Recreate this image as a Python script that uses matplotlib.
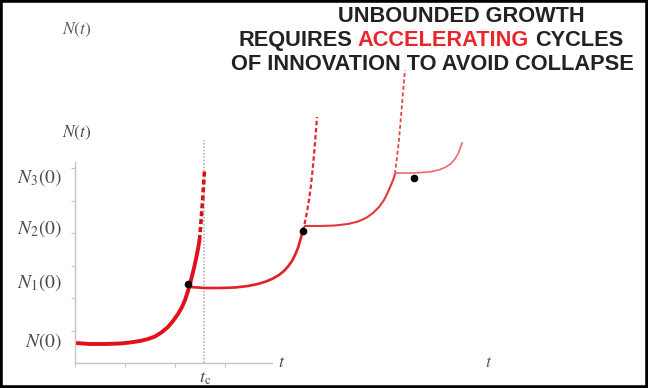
import matplotlib
matplotlib.use("Agg")
import matplotlib.pyplot as plt
from matplotlib.patches import Rectangle

plt.rcParams['mathtext.fontset'] = 'stix'

# ---------------- data (t in tick units, N in tick units) ----------------
# first cycle: N(0) -> finite-time singularity at t_c
c1_t = [0.02, 0.30, 0.60, 0.90, 1.10, 1.30, 1.46, 1.60, 1.74, 1.86, 1.96, 2.06,
        2.14, 2.20, 2.26, 2.30, 2.34, 2.38, 2.42, 2.46, 2.49]
c1_n = [0.615, 0.585, 0.585, 0.600, 0.631, 0.677, 0.738, 0.815, 0.954, 1.108, 1.292,
        1.508, 1.723, 1.938, 2.215, 2.431, 2.677, 2.923, 3.200, 3.508, 3.785]
c1d_t = [2.49, 2.51, 2.53, 2.55, 2.566, 2.58, 2.59]
c1d_n = [3.785, 4.154, 4.554, 4.954, 5.354, 5.692, 5.908]

# second cycle
c2_t = [2.30, 2.60, 2.90, 3.20, 3.46, 3.66, 3.82, 3.96, 4.08, 4.18, 4.26, 4.34,
        4.40, 4.46, 4.50, 4.54, 4.56]
c2_n = [2.338, 2.308, 2.308, 2.323, 2.369, 2.431, 2.508, 2.600, 2.708, 2.831, 2.969,
        3.138, 3.323, 3.538, 3.754, 3.969, 4.062]
c2d_t = [4.56, 4.60, 4.64, 4.68, 4.72, 4.76, 4.80, 4.84]
c2d_n = [4.062, 4.338, 4.646, 5.015, 5.477, 6.062, 6.769, 7.569]

# third cycle
c3_t = [4.60, 4.90, 5.20, 5.46, 5.66, 5.82, 5.96, 6.08, 6.18, 6.26, 6.32, 6.37, 6.40]
c3_n = [4.215, 4.215, 4.231, 4.277, 4.354, 4.462, 4.615, 4.800, 5.015, 5.262, 5.477,
        5.662, 5.815]
c3d_t = [6.40, 6.44, 6.48, 6.51, 6.54, 6.57, 6.60]
c3d_n = [5.815, 6.338, 6.862, 7.415, 7.969, 8.492, 9.015]

# fourth cycle
c4_t = [6.40, 6.70, 6.96, 7.14, 7.30, 7.42, 7.52, 7.60, 7.67, 7.74]
c4_n = [5.846, 5.846, 5.862, 5.892, 5.954, 6.031, 6.138, 6.277, 6.462, 6.769]

# innovation points
dot_t = [2.26, 4.56, 6.78]
dot_n = [2.43, 4.06, 5.69]

# critical time
t_c = 2.58

level_labels = [r'$N(0)$', r'$N_1(0)$', r'$N_2(0)$', r'$N_3(0)$']
level_values = [0.65, 2.49, 4.15, 5.72]

x_ticks = [0, 1, 2, 3]
y_ticks = [1, 2, 3, 4, 5, 6]

title_line1 = "UNBOUNDED GROWTH"
title_line2 = ["REQUIRES", "ACCELERATING", "CYCLES"]
title_line3 = "OF INNOVATION TO AVOID COLLAPSE"

# ---------------- figure ----------------
W, H = 648, 388
fig = plt.figure(figsize=(W / 100, H / 100), dpi=100)
fig.patch.set_facecolor('white')
ax = fig.add_axes([75 / W, 25 / H, (W - 75) / W, 363 / H])
ax.set_xlim(0, (W - 75) / 50)
ax.set_ylim(0, 363 / 32.5)
ax.patch.set_alpha(0)

for s in ['top', 'right']:
    ax.spines[s].set_visible(False)
axis_col = '#c4c4c4'
ax.spines['left'].set_bounds(0, 6.2)
ax.spines['bottom'].set_bounds(0, 3.94)
for s in ['left', 'bottom']:
    ax.spines[s].set_color(axis_col)
    ax.spines[s].set_linewidth(1.0)
ax.set_xticks(x_ticks)
ax.set_yticks(y_ticks)
ax.set_xticklabels([])
ax.set_yticklabels([])
ax.tick_params(length=3, width=0.8, color=axis_col)

# t_c dotted line
ax.plot([t_c, t_c], [0, 6.86], ls=(0, (1, 1.2)), color='#a8a8a8', lw=1.1)

# curves
ax.plot(c1_t, c1_n, color='#e3101c', lw=2.8, solid_capstyle='round', solid_joinstyle='round')
ax.plot(c1d_t, c1d_n, color='#d8101c', lw=2.6, ls=(0, (1.4, 0.8)))
ax.plot(c2_t, c2_n, color='#e61e28', lw=1.9, solid_joinstyle='round')
ax.plot(c2d_t, c2d_n, color='#e42630', lw=1.6, ls=(0, (2.0, 1.2)))
ax.plot(c3_t, c3_n, color='#e8363c', lw=1.5, solid_joinstyle='round')
ax.plot(c3d_t, c3d_n, color='#e8454b', lw=1.3, ls=(0, (2.2, 1.4)))
ax.plot(c4_t, c4_n, color='#ee6a70', lw=1.2, solid_joinstyle='round')

ax.plot(dot_t, dot_n, 'o', color='black', ms=4.5, zorder=5)

# labels
lab_col = '#4a4a4a'
for lab, v in zip(level_labels, level_values):
    ax.text(-0.26, v, lab, ha='right', va='center', fontsize=14, color=lab_col)
ax.text(0.04, 7.08, r'$N(t)$', ha='center', va='center', fontsize=12.5, color=lab_col)
ax.text(0.04, 10.25, r'$N(t)$', ha='center', va='center', fontsize=12.5, color='#5a5a5a')
ax.text(4.14, 0.03, r'$t$', ha='center', va='center', fontsize=13, color=lab_col)
ax.text(8.28, 0.03, r'$t$', ha='center', va='center', fontsize=13, color='#5a5a5a')
ax.text(t_c + 0.02, -0.45, r'$t_\mathrm{c}$', ha='center', va='center', fontsize=13, color=lab_col)

# title
tfont = dict(fontsize=15.7, fontweight='bold', family='Liberation Sans', color='#222222')
fig.text(461 / W, 1 - 22 / H, title_line1, ha='center', va='baseline', **tfont)
fig.text(432 / W, 1 - 70 / H, title_line3, ha='center', va='baseline', **tfont)
t1 = fig.text(238 / W, 1 - 46 / H, title_line2[0], ha='left', va='baseline', **tfont)
space = 0.278 * 15.7
red = dict(tfont)
red['color'] = '#e8262c'
t2 = ax.annotate(title_line2[1], xy=(1, 0), xycoords=t1, xytext=(space, 0),
                 textcoords='offset points', ha='left', va='bottom',
                 annotation_clip=False, **red)
t3 = ax.annotate(title_line2[2], xy=(1, 0), xycoords=t2, xytext=(space, 0),
                 textcoords='offset points', ha='left', va='bottom',
                 annotation_clip=False, **tfont)

# border
fig.add_artist(Rectangle((0, 0), 1, 1, transform=fig.transFigure, fill=False,
                         ec='black', lw=4, zorder=10))

fig.savefig('out.png', dpi=100)
